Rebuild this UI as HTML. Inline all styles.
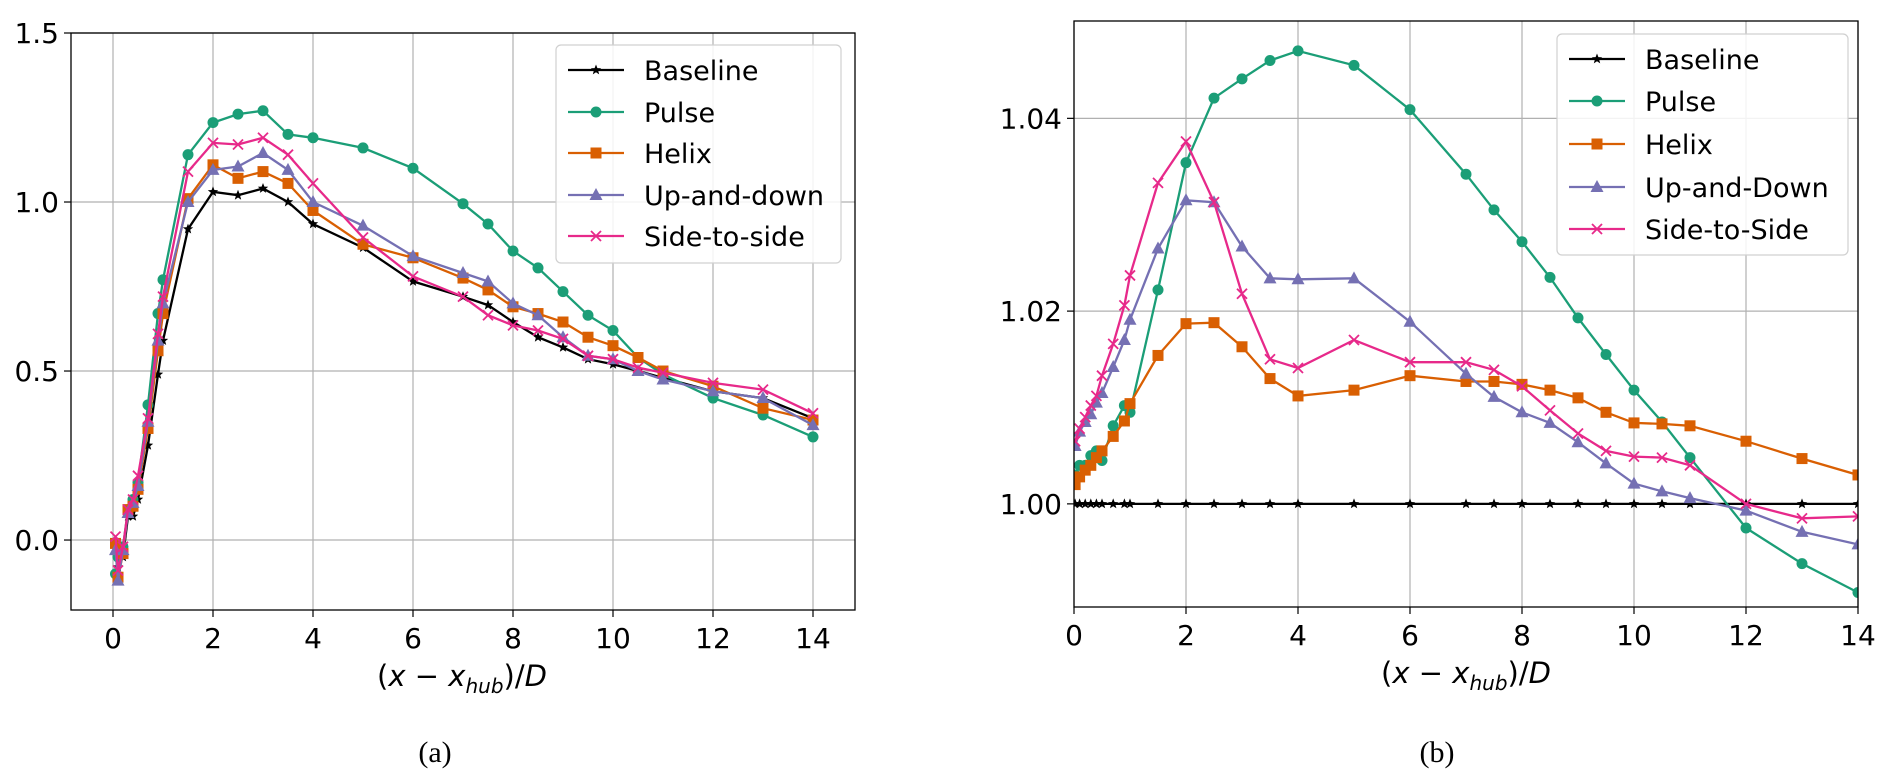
<!DOCTYPE html>
<html><head><meta charset="utf-8"><style>
html,body{margin:0;padding:0;background:#fff;width:1892px;height:780px;overflow:hidden}
svg{display:block}
text{font-family:"DejaVu Sans","Liberation Sans",sans-serif;fill:#000}
</style></head><body>
<svg id="fig" width="1892" height="780" viewBox="0 0 1892 780"></svg>
<script>
// ---- data ----
const xsA = [0.05,0.1,0.2,0.3,0.4,0.5,0.7,0.9,1,1.5,2,2.5,3,3.5,4,5,6,7,7.5,8,8.5,9,9.5,10,10.5,11,12,13,14];
const xsB = [0.02,0.1,0.2,0.3,0.4,0.5,0.7,0.9,1,1.5,2,2.5,3,3.5,4,5,6,7,7.5,8,8.5,9,9.5,10,10.5,11,12,13,14];
const seriesNames = ["Baseline","Pulse","Helix","Up-and-down","Side-to-side"];
const seriesNamesB = ["Baseline","Pulse","Helix","Up-and-Down","Side-to-Side"];
const aBaseline = [-0.1,-0.08,-0.05,0.07,0.07,0.12,0.28,0.49,0.59,0.92,1.03,1.02,1.04,1.0,0.935,0.865,0.765,0.72,0.695,0.645,0.60,0.57,0.535,0.52,0.50,0.48,0.44,0.42,0.36];
const aPulse = [-0.1,-0.05,-0.02,0.09,0.12,0.17,0.40,0.67,0.77,1.14,1.235,1.26,1.27,1.20,1.19,1.16,1.10,0.995,0.935,0.855,0.805,0.735,0.665,0.62,0.54,0.49,0.42,0.37,0.305];
const aHelix = [-0.01,-0.11,-0.04,0.09,0.10,0.15,0.33,0.56,0.67,1.01,1.11,1.07,1.09,1.055,0.975,0.875,0.835,0.775,0.74,0.69,0.67,0.645,0.60,0.575,0.54,0.50,0.455,0.39,0.355];
const aUpDown = [-0.03,-0.12,-0.03,0.08,0.11,0.16,0.35,0.59,0.70,1.0,1.095,1.105,1.145,1.095,1.0,0.93,0.84,0.79,0.765,0.70,0.665,0.60,0.545,0.535,0.50,0.475,0.44,0.42,0.34];
const aSide = [0.01,-0.09,-0.02,0.09,0.12,0.19,0.36,0.61,0.72,1.09,1.175,1.17,1.19,1.14,1.055,0.895,0.78,0.72,0.665,0.635,0.62,0.595,0.545,0.535,0.51,0.495,0.465,0.445,0.375];
const bBaseline = [1,1,1,1,1,1,1,1,1,1,1,1,1,1,1,1,1,1,1,1,1,1,1,1,1,1,1,1,1];
const bPulse = [1.003,1.004,1.004,1.005,1.0055,1.0045,1.0081,1.0102,1.0095,1.0222,1.0354,1.0421,1.0441,1.046,1.047,1.0455,1.0409,1.0342,1.0305,1.0272,1.0235,1.0193,1.0155,1.0118,1.0085,1.0048,0.9975,0.9938,0.9908];
const bHelix = [1.002,1.0028,1.0035,1.004,1.0048,1.0055,1.007,1.0086,1.0104,1.0154,1.0187,1.0188,1.0163,1.013,1.0112,1.0118,1.0133,1.0127,1.0127,1.0124,1.0118,1.011,1.0095,1.0084,1.0083,1.0081,1.0065,1.0047,1.003];
const bUpDown = [1.006,1.0075,1.0085,1.0093,1.0105,1.0115,1.0142,1.017,1.0191,1.0265,1.0315,1.0313,1.0267,1.0234,1.0233,1.0234,1.0189,1.0135,1.0111,1.0095,1.0084,1.0064,1.0042,1.0021,1.0013,1.0006,0.9993,0.9971,0.9958];
const bSide = [1.0065,1.0078,1.009,1.0102,1.0112,1.0133,1.0166,1.0206,1.0237,1.0333,1.0376,1.0313,1.0218,1.015,1.0141,1.017,1.0147,1.0147,1.0139,1.0122,1.0097,1.0073,1.0055,1.0049,1.0048,1.004,1.0,0.9985,0.9987];
const xTicks = [0,2,4,6,8,10,12,14];
const yTicksA = [0,0.5,1.0,1.5];
const yTickLabelsA = ["0.0","0.5","1.0","1.5"];
const yTicksB = [1.00,1.02,1.04];
const yTickLabelsB = ["1.00","1.02","1.04"];

const colors = ["#000000","#1b9e77","#d95f02","#7570b3","#e7298a"];
const markers = ["star","circle","square","triangle","x"];
const NS = "http://www.w3.org/2000/svg";
const svg = document.getElementById('fig');
function mk(tag, attrs, parent){const e=document.createElementNS(NS,tag);for(const k in attrs)e.setAttribute(k,attrs[k]);(parent||svg).appendChild(e);return e;}

function marker(g, type, cx, cy, col){
  let e;
  if(type==="circle"){e=mk('circle',{cx,cy,r:5.5,fill:col},g);}
  else if(type==="square"){e=mk('rect',{x:cx-5.5,y:cy-5.5,width:11,height:11,fill:col},g);}
  else if(type==="triangle"){e=mk('polygon',{points:`${cx},${cy-7} ${cx-6.5},${cy+5} ${cx+6.5},${cy+5}`,fill:col},g);}
  else if(type==="x"){e=mk('path',{d:`M${cx-5},${cy-5}L${cx+5},${cy+5}M${cx-5},${cy+5}L${cx+5},${cy-5}`,stroke:col,'stroke-width':1.8,fill:'none'},g);}
  else {let p=[];for(let i=0;i<10;i++){const r=i%2?2.3:5.5;const a=-Math.PI/2+i*Math.PI/5;p.push((cx+r*Math.cos(a)).toFixed(1)+','+(cy+r*Math.sin(a)).toFixed(1));}
    e=mk('polygon',{points:p.join(' '),fill:col},g);}
  
  
}

function panel(cfg){
  const {L,R,T,B,xmin,xmax,ymin,ymax,yt,ytl,xs,series,names,legend,id,xlabX,capX,capText} = cfg;
  const sx=v=>L+(v-xmin)/(xmax-xmin)*(R-L);
  const sy=v=>B-(v-ymin)/(ymax-ymin)*(B-T);
  const g=mk('g',{});
  
  
  const clipId='clip'+id;
  const cp=mk('clipPath',{id:clipId},g); mk('rect',{x:L,y:T,width:R-L,height:B-T},cp);
  // grid
  xTicks.forEach(t=>{const x=sx(t);
    const gl=mk('line',{x1:x,x2:x,y1:T,y2:B,stroke:'#b0b0b0','stroke-width':1.2},g);
    
    
    mk('line',{x1:x,x2:x,y1:B,y2:B+7,stroke:'#000','stroke-width':1.2},g);
    const tx=mk('text',{x:x,y:B+38,'font-size':28,'text-anchor':'middle'},g); tx.textContent=t;
    
    
  });
  yt.forEach((t,i)=>{const y=sy(t);
    const gl=mk('line',{x1:L,x2:R,y1:y,y2:y,stroke:'#b0b0b0','stroke-width':1.2},g);
    
    
    mk('line',{x1:L-7,x2:L,y1:y,y2:y,stroke:'#000','stroke-width':1.2},g);
    const tx=mk('text',{x:L-12,y:y+10,'font-size':28,'text-anchor':'end'},g); tx.textContent=ytl[i];
    
    
  });
  // series
  series.forEach((vals,si)=>{
    const sg=mk('g',{'clip-path':`url(#${clipId})`},g);
    
    
    const d=vals.map((v,i)=>(i?'L':'M')+sx(xs[i]).toFixed(1)+','+sy(v).toFixed(1)).join('');
    const ln=mk('path',{d,stroke:colors[si],'stroke-width':2.3,fill:'none'},sg);
    
    
    vals.forEach((v,i)=>marker(sg,markers[si],sx(xs[i]),sy(v),colors[si]));
  });
  const fr=mk('rect',{x:L,y:T,width:R-L,height:B-T,fill:'none',stroke:'#000','stroke-width':1.3},g);
  
  
  // legend
  const lg=mk('g',{},g);
  
  
  mk('rect',{x:legend.x,y:legend.y,width:legend.w,height:legend.h,rx:5,fill:'#fff','fill-opacity':0.85,stroke:'#d0d0d0','stroke-width':1.2},lg);
  names.forEach((n,i)=>{const y=legend.rows[i];
    const eg=mk('g',{},lg);
    
    
    mk('line',{x1:legend.x+12,x2:legend.x+68,y1:y,y2:y,stroke:colors[i],'stroke-width':2.3},eg);
    marker(eg,markers[i],legend.x+40,y,colors[i]);
    const t=mk('text',{x:legend.x+88,y:y+10,'font-size':27},eg); t.textContent=n;
  });
  // x label
  const xl=mk('text',{x:xlabX,y:B+76,'font-size':29,'text-anchor':'middle'},g);
  
  
  xl.innerHTML='(<tspan font-style="italic">x</tspan> − <tspan font-style="italic">x</tspan><tspan font-style="italic" font-size="20" dy="7">hub</tspan><tspan dy="-7">)/</tspan><tspan font-style="italic">D</tspan>';
  const cap=mk('text',{x:capX,y:762,'font-size':30,'text-anchor':'middle',style:'font-family:"Liberation Serif",serif'},g);
  cap.textContent=capText;
  
  
}

panel({id:'panel-a',L:71,R:855,T:33,B:610,xmin:-0.84,xmax:14.84,ymin:-0.207,ymax:1.5,
  yt:yTicksA,ytl:yTickLabelsA,xs:xsA,series:[aBaseline,aPulse,aHelix,aUpDown,aSide],names:seriesNames,
  legend:{x:556,y:45,w:285,h:218,rows:[70,112,153,195,236]},xlabX:462,capX:435,capText:'(a)'});
panel({id:'panel-b',L:1074,R:1858,T:21,B:607,xmin:0,xmax:14,ymin:0.9893,ymax:1.0501,
  yt:yTicksB,ytl:yTickLabelsB,xs:xsB,series:[bBaseline,bPulse,bHelix,bUpDown,bSide],names:seriesNamesB,
  legend:{x:1557,y:34,w:291,h:221,rows:[59,101,144,187,229]},xlabX:1466,capX:1437,capText:'(b)'});
</script>
</body></html>
